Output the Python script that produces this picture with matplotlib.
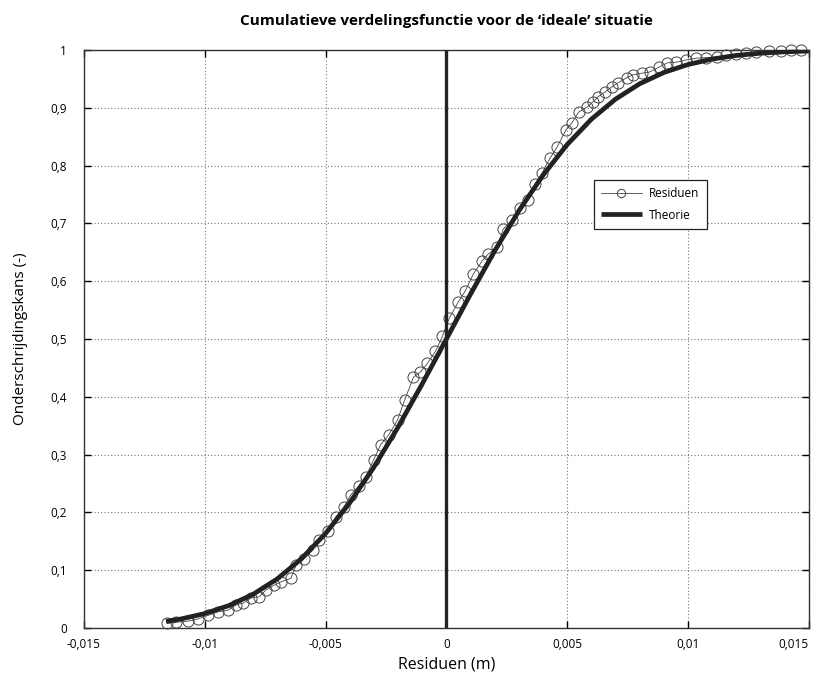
import matplotlib.pyplot as plt
from matplotlib.ticker import FixedLocator

plt.rcParams['font.family'] = ['Open Sans', 'DejaVu Sans']

res_x = [-0.01154, -0.01117, -0.01068, -0.01026, -0.00985, -0.00944, -0.00903, -0.00870,
         -0.00841, -0.00808, -0.00775, -0.00746, -0.00713, -0.00684, -0.00643, -0.00622,
         -0.00589, -0.00552, -0.00528, -0.00491, -0.00458, -0.00425, -0.00396, -0.00363,
         -0.00334, -0.00301, -0.00272, -0.00239, -0.00202, -0.00173, -0.00136, -0.00107,
         -0.00078, -0.00045, -0.00016, 0.00012, 0.00049, 0.00078, 0.00111, 0.00148,
         0.00173, 0.00210, 0.00235, 0.00272, 0.00305, 0.00338, 0.00367, 0.00396,
         0.00429, 0.00458, 0.00495, 0.00519, 0.00548, 0.00581, 0.00606, 0.00627,
         0.00655, 0.00684, 0.00709, 0.00746, 0.00771, 0.00808, 0.00841, 0.00882,
         0.00915, 0.00952, 0.00993, 0.01035, 0.01076, 0.01121, 0.01158, 0.01200,
         0.01241, 0.01282, 0.01336, 0.01385, 0.01426, 0.01467]
res_y = [0.008, 0.010, 0.012, 0.016, 0.022, 0.028, 0.031, 0.040,
         0.043, 0.052, 0.054, 0.066, 0.074, 0.080, 0.086, 0.109,
         0.120, 0.135, 0.152, 0.168, 0.192, 0.209, 0.230, 0.246,
         0.261, 0.291, 0.317, 0.334, 0.360, 0.394, 0.434, 0.443,
         0.458, 0.479, 0.505, 0.536, 0.564, 0.583, 0.612, 0.635,
         0.647, 0.659, 0.690, 0.706, 0.727, 0.741, 0.768, 0.787,
         0.813, 0.832, 0.862, 0.874, 0.893, 0.901, 0.910, 0.919,
         0.927, 0.936, 0.943, 0.952, 0.957, 0.960, 0.962, 0.971,
         0.978, 0.979, 0.983, 0.986, 0.987, 0.988, 0.991, 0.993,
         0.995, 0.997, 0.998, 0.999, 1.000, 1.000]

theo_x = [-0.0116, -0.011, -0.010, -0.009, -0.008, -0.007, -0.006, -0.005, -0.004,
          -0.003, -0.002, -0.001, 0.0, 0.001, 0.002, 0.003, 0.004, 0.005, 0.006,
          0.007, 0.008, 0.009, 0.010, 0.011, 0.012, 0.013, 0.014, 0.015]
theo_y = [0.0115, 0.0155, 0.0250, 0.0388, 0.0583, 0.0849, 0.1197, 0.1635, 0.2165,
          0.2782, 0.3475, 0.4223, 0.5, 0.5777, 0.6525, 0.7218, 0.7835, 0.8365, 0.8803,
          0.9151, 0.9417, 0.9612, 0.9750, 0.9845, 0.9907, 0.9946, 0.9970, 0.9984]

xticks = [-0.015, -0.01, -0.005, 0, 0.005, 0.01, 0.015]
xlabels = ['-0,015', '-0,01', '-0,005', '0', '0,005', '0,01', '0,015']
yticks = [0, 0.1, 0.2, 0.3, 0.4, 0.5, 0.6, 0.7, 0.8, 0.9, 1]
ylabels = ['0', '0,1', '0,2', '0,3', '0,4', '0,5', '0,6', '0,7', '0,8', '0,9', '1']

fig = plt.figure(figsize=(8.22, 6.86), dpi=100)
ax = fig.add_axes([0.102, 0.0845, 0.882, 0.8425])

ax.plot(res_x, res_y, color='#444444', lw=0.6, marker='o', markersize=8,
        markerfacecolor='none', markeredgewidth=0.7, label='Residuen', clip_on=False, zorder=3)
ax.plot(theo_x, theo_y, color='#222222', lw=3.4, label='Theorie', zorder=4,
        solid_capstyle='butt')
ax.plot([0, 0], [0, 1], color='#222222', lw=2.4, zorder=4)

ax.set_xlim(-0.015, 0.015)
ax.set_ylim(0, 1)
ax.xaxis.set_major_locator(FixedLocator(xticks))
ax.yaxis.set_major_locator(FixedLocator(yticks))
ax.set_xticklabels(xlabels)
ax.set_yticklabels(ylabels)
ax.tick_params(direction='in', top=True, right=True, length=5, width=1,
               labelsize=8.5, pad=7)
ax.tick_params(axis='y', pad=12)
ax.get_xticklabels()[-1].set_horizontalalignment('right')
ax.get_xticklabels()[-1].set_x(0.0147)
ax.grid(True, linestyle=(0, (1, 2)), color='#777777', lw=0.8)
for s in ax.spines.values():
    s.set_linewidth(1.0)
    s.set_color('#333333')

ax.set_xlabel('Residuen (m)', fontsize=11.5, labelpad=4)
ax.set_ylabel('Onderschrijdingskans (-)', fontsize=11, labelpad=16)
ax.set_title("Cumulatieve verdelingsfunctie voor de \u2018ideale\u2019 situatie",
             fontsize=11, fontweight='bold', pad=18)

leg = ax.legend(loc='upper left', bbox_to_anchor=(0.695, 0.785), fontsize=8.5,
                fancybox=False, edgecolor='#222222', framealpha=1,
                handlelength=3.5, borderpad=0.6, labelspacing=0.7, handletextpad=0.6)
leg.get_frame().set_linewidth(0.9)
for h in leg.get_lines():
    h.set_markersize(6)

fig.savefig('out.png', dpi=100)
